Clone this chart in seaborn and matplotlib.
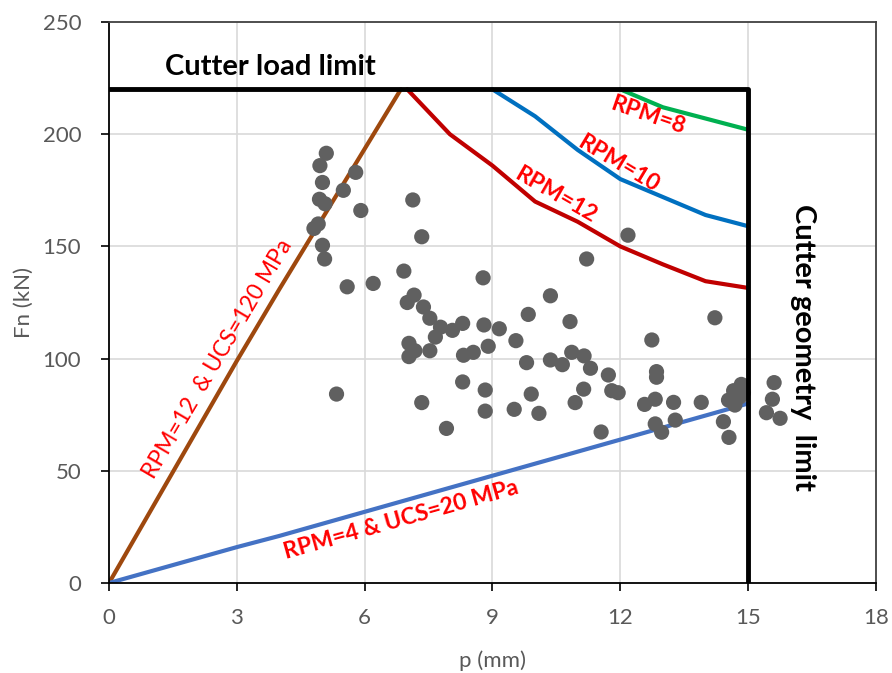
import matplotlib
matplotlib.use("Agg")
import matplotlib.pyplot as plt
import seaborn as sns
import pandas as pd

# ---- data ----
scatter_p = [5.10, 4.95, 5.79, 5.01, 5.50, 4.94, 5.07, 5.91, 7.13, 7.34,
             4.81, 4.91, 5.01, 5.06, 5.59, 6.20, 6.92, 7.16, 7.00, 7.38,
             7.53, 7.78, 7.66, 8.06, 8.30, 8.78, 7.04, 7.18, 7.04, 7.53,
             8.32, 8.55, 5.34, 7.34, 8.30, 8.83, 8.83, 7.92, 8.80, 8.90,
             10.36, 9.84, 10.82, 11.21, 12.18, 9.16, 9.55, 9.80, 10.36, 10.64,
             10.86, 11.15, 11.30, 11.72, 11.14, 11.80, 11.95, 9.91, 10.94, 9.51,
             10.09, 11.55, 14.22, 12.74, 12.85, 12.85, 12.82, 12.57, 13.25, 13.90,
             13.29, 12.82, 12.97, 14.42, 14.55, 14.84, 14.66, 14.73, 14.54, 14.81,
             14.69, 14.89, 15.61, 15.57, 15.43, 15.75]
scatter_fn = [191.5, 186.0, 183.0, 178.5, 175.0, 171.0, 169.0, 166.0, 170.7, 154.3,
              158.0, 160.0, 150.5, 144.4, 132.0, 133.5, 139.0, 128.3, 125.0, 123.0,
              118.0, 114.0, 109.6, 112.6, 115.7, 136.0, 106.8, 103.5, 100.9, 103.5,
              101.5, 102.8, 84.2, 80.4, 89.6, 86.0, 76.6, 68.9, 115.0, 105.5,
              128.0, 119.7, 116.5, 144.4, 155.0, 113.3, 108.0, 98.2, 99.4, 97.3,
              102.8, 101.2, 95.7, 92.7, 86.4, 85.7, 84.8, 84.2, 80.4, 77.4,
              75.6, 67.3, 118.2, 108.3, 94.2, 91.7, 81.9, 79.6, 80.5, 80.5,
              72.6, 70.9, 67.2, 71.9, 64.9, 88.5, 85.7, 84.1, 81.5, 83.0,
              79.3, 84.8, 89.3, 81.9, 75.9, 73.4]

rpm12_p = [7, 8, 9, 10, 11, 12, 13, 14, 15]
rpm12_fn = [220, 200, 186, 170, 161, 150, 142, 134.5, 131.5]
rpm10_p = [9, 10, 11, 12, 13, 14, 15]
rpm10_fn = [220, 208, 193, 180, 172, 164, 159]
rpm8_p = [12, 13, 14, 15]
rpm8_fn = [220, 212, 207, 202]
ucs120_p = [0, 3, 4, 6.85]
ucs120_fn = [0, 99, 131, 220]
ucs20_p = [0, 3, 4, 15]
ucs20_fn = [0, 16, 21, 80]
limit_p = [0, 15, 15]
limit_fn = [220, 220, 0]

x_ticks = [0, 3, 6, 9, 12, 15, 18]
y_ticks = [0, 50, 100, 150, 200, 250]

# ---- plot ----
sns.set_style("white")
plt.rcParams['font.family'] = ['Lato', 'DejaVu Sans']

fig = plt.figure(figsize=(8.92, 6.73), dpi=100)
ax = fig.add_axes([0.1222, 0.1337, 0.982 - 0.1222, 0.9673 - 0.1337])

grid_c = "#d9d9d9"
for xv in x_ticks[1:-1]:
    ax.axvline(xv, color=grid_c, lw=1.2, zorder=0)
for yv in y_ticks[1:-1]:
    ax.axhline(yv, color=grid_c, lw=1.2, zorder=0)

def line(x, y, color, lw=3.0, z=2):
    df = pd.DataFrame({"p": x, "fn": y})
    sns.lineplot(data=df, x="p", y="fn", color=color, lw=lw, ax=ax,
                 sort=False, estimator=None, zorder=z)

line(ucs120_p, ucs120_fn, "#9E480E")
line(ucs20_p, ucs20_fn, "#4472C4")
line(rpm12_p, rpm12_fn, "#C00000")
line(rpm10_p, rpm10_fn, "#0070C0")
line(rpm8_p, rpm8_fn, "#00B050")

sdf = pd.DataFrame({"p": scatter_p, "fn": scatter_fn})
sns.scatterplot(data=sdf, x="p", y="fn", color="#606060", s=120,
                edgecolor="none", ax=ax, zorder=3)

line(limit_p, limit_fn, "#000000", lw=3.5, z=4)

ax.set_xlim(0, 18)
ax.set_ylim(0, 250)
ax.set_xticks(x_ticks)
ax.set_yticks(y_ticks)
ax.tick_params(axis="both", labelsize=16, colors="#000000", labelcolor="#595959",
               length=6, width=1.2, direction="out", bottom=True, left=True)
ax.tick_params(axis="x", pad=12)
ax.tick_params(axis="y", pad=14)
for sp in ax.spines.values():
    sp.set_visible(True)
    sp.set_color("black")
    sp.set_linewidth(1.3)
ax.spines["top"].set_color("#404040")
ax.spines["right"].set_color("#404040")

ax.set_xlabel("p (mm)", fontsize=16, color="#595959", labelpad=16)
ax.set_ylabel("Fn (kN)", fontsize=16, color="#595959", labelpad=6)

red = "#FF0000"
ax.text(3.78, 230, "Cutter load limit", fontsize=21, fontweight="bold",
        color="black", ha="center", va="center")
ax.text(16.28, 105, "Cutter geometry  limit", fontsize=21, fontweight="bold",
        color="black", ha="center", va="center", rotation=-90)
ax.text(2.55, 100, "RPM=12  & UCS=120 MPa", fontsize=16.5, color=red,
        ha="center", va="center", rotation=59.5, rotation_mode="anchor")
ax.text(6.85, 28, "RPM=4 & UCS=20 MPa", fontsize=16.5, fontweight="bold", color=red,
        ha="center", va="center", rotation=15.7, rotation_mode="anchor")
ax.text(10.47, 173, "RPM=12", fontsize=16.5, fontweight="bold", color=red,
        ha="center", va="center", rotation=-30, rotation_mode="anchor")
ax.text(11.95, 187, "RPM=10", fontsize=16.5, fontweight="bold", color=red,
        ha="center", va="center", rotation=-31, rotation_mode="anchor")
ax.text(12.64, 208.5, "RPM=8", fontsize=16.5, fontweight="bold", color=red,
        ha="center", va="center", rotation=-19, rotation_mode="anchor")

fig.savefig("out.png", dpi=100)
